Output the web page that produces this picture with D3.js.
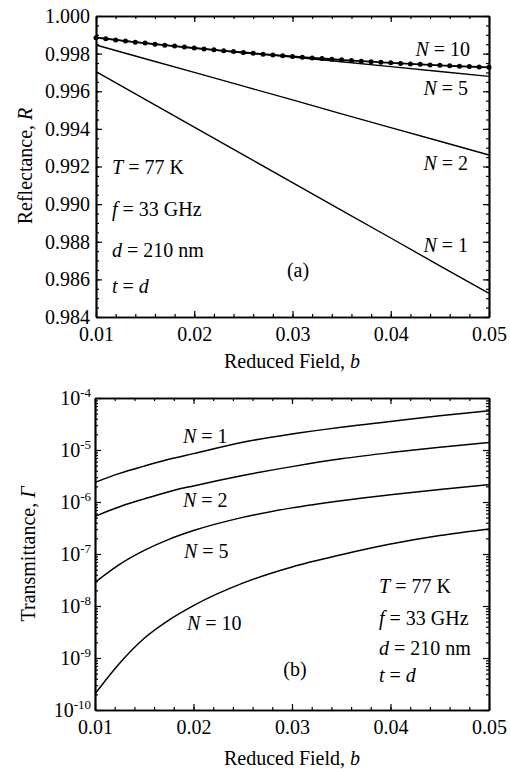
<!DOCTYPE html>
<html>
<head>
<meta charset="utf-8">
<script src="https://cdn.jsdelivr.net/npm/d3@7"></script>
<style>
body { margin: 0; background: #fff; }
svg { font-family: "Liberation Serif", "Times New Roman", serif; }
.domain { stroke: #000; stroke-width: 1.7; }
.tick line { stroke: #000; stroke-width: 1.2; }
.tick text { font-size: 20px; font-family: "Liberation Serif", serif; fill: #000; }
</style>
</head>
<body>
<svg id="fig" width="510" height="769"></svg>
<script>
// ---- panel (a): reflectance ----
var bRef = [0.010, 0.015, 0.020, 0.025, 0.030, 0.035, 0.040, 0.045, 0.050];
var refN1 = [0.99704, 0.99557, 0.99409, 0.99262, 0.99114, 0.98967, 0.98820, 0.98672, 0.98525];
var refN2 = [0.99846, 0.99773, 0.99700, 0.99627, 0.99554, 0.99480, 0.99407, 0.99334, 0.99261];
var refN5 = [0.99885, 0.99856, 0.99829, 0.99805, 0.99782, 0.99757, 0.99731, 0.99705, 0.99679];
// N = 10 drawn with dots
var bDots = [0.010, 0.011, 0.012, 0.013, 0.014, 0.015, 0.016, 0.017, 0.018, 0.019,
             0.020, 0.021, 0.022, 0.023, 0.024, 0.025, 0.026, 0.027, 0.028, 0.029,
             0.030, 0.031, 0.032, 0.033, 0.034, 0.035, 0.036, 0.037, 0.038, 0.039,
             0.040, 0.041, 0.042, 0.043, 0.044, 0.045, 0.046, 0.047, 0.048, 0.049, 0.050];
var refN10 = [0.99885, 0.99879, 0.99873, 0.99867, 0.99861, 0.99856, 0.99850, 0.99845, 0.99840, 0.99835,
              0.99830, 0.99825, 0.99820, 0.99815, 0.99811, 0.99806, 0.99802, 0.99797, 0.99793, 0.99789,
              0.99785, 0.99781, 0.99777, 0.99774, 0.99770, 0.99767, 0.99763, 0.99760, 0.99757, 0.99754,
              0.99751, 0.99748, 0.99745, 0.99743, 0.99740, 0.99738, 0.99735, 0.99733, 0.99731, 0.99729, 0.99727];

// ---- panel (b): transmittance ----
var bTr = [0.0100, 0.0125, 0.0150, 0.0175, 0.0200, 0.0250, 0.0300, 0.0350, 0.0400, 0.0450, 0.0500];
var trN1 = [2.38e-6, 3.55e-6, 4.90e-6, 6.61e-6, 8.51e-6, 1.41e-5, 2.04e-5, 2.75e-5, 3.55e-5, 4.57e-5, 5.70e-5];
var trN2 = [5.28e-7, 8.13e-7, 1.15e-6, 1.58e-6, 2.04e-6, 3.24e-6, 4.79e-6, 6.76e-6, 8.91e-6, 1.135e-5, 1.40e-5];
var trN5 = [2.84e-8, 6.31e-8, 1.17e-7, 1.91e-7, 2.82e-7, 5.06e-7, 7.71e-7, 1.06e-6, 1.38e-6, 1.74e-6, 2.15e-6];
var trN10 = [2.04e-10, 7.94e-10, 2.40e-9, 5.37e-9, 1.02e-8, 2.75e-8, 5.62e-8, 9.66e-8, 1.55e-7, 2.26e-7, 3.02e-7];

// ticks
var xTicks = [0.01, 0.02, 0.03, 0.04, 0.05];
var refTicks = [0.984, 0.986, 0.988, 0.990, 0.992, 0.994, 0.996, 0.998, 1.000];
var trTicks = [1e-10, 1e-9, 1e-8, 1e-7, 1e-6, 1e-5, 1e-4];
var trExp = ["-10", "-9", "-8", "-7", "-6", "-5", "-4"];

var svg = d3.select("#fig");

var xA = d3.scaleLinear().domain([0.01, 0.05]).range([96, 489]);
var yA = d3.scaleLinear().domain([0.984, 1.0]).range([317, 16]);
var xB = d3.scaleLinear().domain([0.01, 0.05]).range([95, 489]);
var yB = d3.scaleLog().domain([1e-10, 1e-4]).range([710, 398]);

function frame(x, y, yMajor, yMinor, yFmt) {
  var g = svg.append("g");
  var xMinor = x.ticks(20);
  var top = y.range()[1], bot = y.range()[0], lft = x.range()[0], rgt = x.range()[1];
  g.append("g").attr("transform", "translate(0," + bot + ")")
    .call(d3.axisBottom(x).tickValues(xMinor).tickSize(-3).tickSizeOuter(0).tickFormat(""));
  g.append("g").attr("transform", "translate(0," + bot + ")")
    .call(d3.axisBottom(x).tickValues(xTicks).tickSize(-6).tickSizeOuter(0).tickPadding(10).tickFormat(d3.format(".2f")));
  g.append("g").attr("transform", "translate(0," + top + ")")
    .call(d3.axisTop(x).tickValues(xMinor).tickSize(-3).tickSizeOuter(0).tickFormat(""));
  g.append("g").attr("transform", "translate(0," + top + ")")
    .call(d3.axisTop(x).tickValues(xTicks).tickSize(-6).tickSizeOuter(0).tickFormat(""));
  g.append("g").attr("transform", "translate(" + lft + ",0)")
    .call(d3.axisLeft(y).tickValues(yMinor).tickSize(-3).tickSizeOuter(0).tickFormat(""));
  g.append("g").attr("transform", "translate(" + lft + ",0)")
    .call(d3.axisLeft(y).tickValues(yMajor).tickSize(-6).tickSizeOuter(0).tickPadding(6).tickFormat(yFmt));
  g.append("g").attr("transform", "translate(" + rgt + ",0)")
    .call(d3.axisRight(y).tickValues(yMinor).tickSize(-3).tickSizeOuter(0).tickFormat(""));
  g.append("g").attr("transform", "translate(" + rgt + ",0)")
    .call(d3.axisRight(y).tickValues(yMajor).tickSize(-6).tickSizeOuter(0).tickFormat(""));
  return g;
}

// text with italic pieces
function label(x, y, parts, anchor, size) {
  var t = svg.append("text").attr("x", x).attr("y", y)
    .attr("font-size", size || 20).attr("text-anchor", anchor || "start");
  parts.forEach(function(p) {
    t.append("tspan").attr("font-style", p[1] ? "italic" : "normal").text(p[0]);
  });
  return t;
}

// ===== panel (a) =====
frame(xA, yA, refTicks, yA.ticks(32), d3.format(".3f"));

var lineA = d3.line().x(function(d) { return xA(d[0]); }).y(function(d) { return yA(d[1]); });
[refN1, refN2, refN5].forEach(function(s) {
  svg.append("path").datum(bRef.map(function(b, i) { return [b, s[i]]; }))
    .attr("d", lineA).attr("fill", "none").attr("stroke", "#000").attr("stroke-width", 1.4);
});
var n10 = bDots.map(function(b, i) { return [b, refN10[i]]; });
svg.append("path").datum(n10).attr("d", lineA)
  .attr("fill", "none").attr("stroke", "#000").attr("stroke-width", 1.8);
svg.append("g").selectAll("circle").data(n10).enter().append("circle")
  .attr("cx", function(d) { return xA(d[0]); })
  .attr("cy", function(d) { return yA(d[1]); })
  .attr("r", 2.5).attr("fill", "#000");

label(470, 56, [["N", true], [" = 10", false]], "end");
label(468, 95, [["N", true], [" = 5", false]], "end");
label(468, 170, [["N", true], [" = 2", false]], "end");
label(468, 252, [["N", true], [" = 1", false]], "end");
label(298, 277, [["(a)", false]], "middle");
label(112, 174, [["T", true], [" = 77 K", false]]);
label(112, 216, [["f", true], [" = 33 GHz", false]]);
label(112, 257, [["d", true], [" = 210 nm", false]]);
label(112, 293, [["t", true], [" = ", false], ["d", true]]);

label(292, 368, [["Reduced Field, ", false], ["b", true]], "middle");
label(0, 0, [["Reflectance, ", false], ["R", true]], "middle")
  .attr("transform", "translate(32,166) rotate(-90)");

// ===== panel (b) =====
var trMinor = yB.ticks().filter(function(v) { return trTicks.indexOf(v) < 0; });
frame(xB, yB, trTicks, trMinor, function() { return ""; });

svg.append("g").selectAll("text").data(trTicks).enter().append("text")
  .attr("x", 91).attr("y", function(d) { return yB(d) + 7; })
  .attr("text-anchor", "end").attr("font-size", 20)
  .each(function(d, i) {
    var t = d3.select(this);
    t.append("tspan").text("10");
    t.append("tspan").attr("dy", -8).attr("font-size", 13).text(trExp[i]);
  });

var lineB = d3.line().curve(d3.curveMonotoneX)
  .x(function(d) { return xB(d[0]); }).y(function(d) { return yB(d[1]); });
[trN1, trN2, trN5, trN10].forEach(function(s) {
  svg.append("path").datum(bTr.map(function(b, i) { return [b, s[i]]; }))
    .attr("d", lineB).attr("fill", "none").attr("stroke", "#000").attr("stroke-width", 1.5);
});

label(183, 443, [["N", true], [" = 1", false]]);
label(183, 507, [["N", true], [" = 2", false]]);
label(184, 558, [["N", true], [" = 5", false]]);
label(187, 630, [["N", true], [" = 10", false]]);
label(295, 676, [["(b)", false]], "middle");
label(379, 593, [["T", true], [" = 77 K", false]]);
label(379, 625, [["f", true], [" = 33 GHz", false]]);
label(379, 655, [["d", true], [" = 210 nm", false]]);
label(379, 682, [["t", true], [" = ", false], ["d", true]]);

label(292, 765, [["Reduced Field, ", false], ["b", true]], "middle");
label(0, 0, [["Transmittance, ", false], ["\u0393", true]], "middle")
  .attr("transform", "translate(35,554) rotate(-90)");
</script>
</body>
</html>
